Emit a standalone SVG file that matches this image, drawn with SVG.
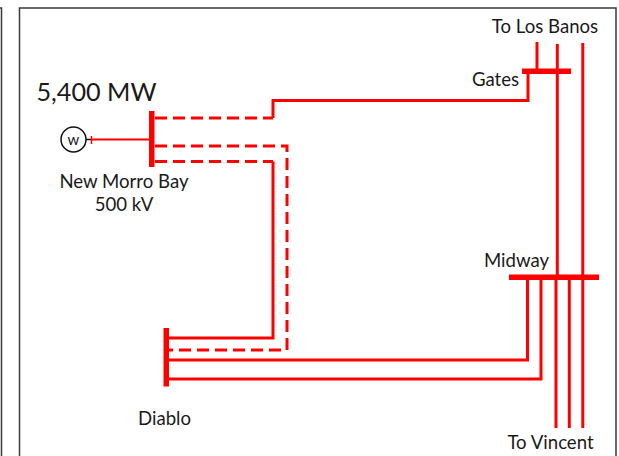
<svg xmlns="http://www.w3.org/2000/svg" width="619" height="456" viewBox="0 0 619 456">
<style>
.frame{fill:none;stroke:#3a3a3a;stroke-width:1.5}
.t{font-family:Lato,"Open Sans",sans-serif;font-size:18.600px;fill:#1a1a1a;text-anchor:middle}
.bus{fill:#f00}
.s{fill:none;stroke:#f00;stroke-width:3}
.d{fill:none;stroke:#f00;stroke-width:3;stroke-dasharray:12 6}
</style>
<rect width="619" height="456" fill="#fff"/>
<g id="frame">
<path class="frame" d="M19.500 456V8H616V456"/>
<path class="frame" d="M0 8H1.500V456"/>
</g>
<g id="connectors">
<path class="d" d="M155 118H273"/>
<path class="s" d="M273 118V100.500H528V71"/>
<path class="d" d="M155 146H287V350H169"/>
<path class="d" d="M155 161.500H273"/>
<path class="s" d="M273 161.500V338H169"/>
<path class="s" d="M169 360H527.500V278"/>
<path class="s" d="M169 379H541V278"/>
<path class="s" d="M537 42V71"/>
<path class="s" d="M557.300 44V277"/>
<path class="s" d="M556 277V428"/>
<path class="s" d="M569.300 278V428"/>
<path class="s" d="M582.800 43V428"/>
<path d="M91 139.500H150" fill="none" stroke="#f00" stroke-width="2"/>
<path d="M86 139.500H91" fill="none" stroke="#111" stroke-width="1.500"/>
<path d="M91.500 136V144" fill="none" stroke="#f00" stroke-width="1.500"/>
</g>
<g id="new-morro-bay">
<rect class="bus" x="149" y="111" width="5.500" height="56"/>
<circle cx="73.500" cy="139.500" r="12.500" fill="#fff" stroke="#111" stroke-width="1.500"/>
<text x="73.500" y="144.500" style="font-family:Lato,'Open Sans',sans-serif;font-size:15px;fill:#1a1a1a;text-anchor:middle">w</text>
<text class="t" x="96.500" y="101" style="font-size:25.200px">5,400 MW</text>
<text class="t" x="124" y="187.500">New Morro Bay</text>
<text class="t" x="124" y="210.500">500 kV</text>
</g>
<g id="gates">
<rect class="bus" x="522" y="68.500" width="49" height="5.500"/>
<text class="t" x="495.500" y="85.500">Gates</text>
</g>
<g id="to-los-banos"><text class="t" x="545" y="32.500">To Los Banos</text></g>
<g id="midway">
<rect class="bus" x="509" y="274.500" width="90" height="5.500"/>
<text class="t" x="516.500" y="266.500">Midway</text>
</g>
<g id="to-vincent"><text class="t" x="550.500" y="448.500">To Vincent</text></g>
<g id="diablo">
<rect class="bus" x="163.500" y="328" width="5.500" height="58.500"/>
<text class="t" x="164.500" y="424.500">Diablo</text>
</g>
</svg>
